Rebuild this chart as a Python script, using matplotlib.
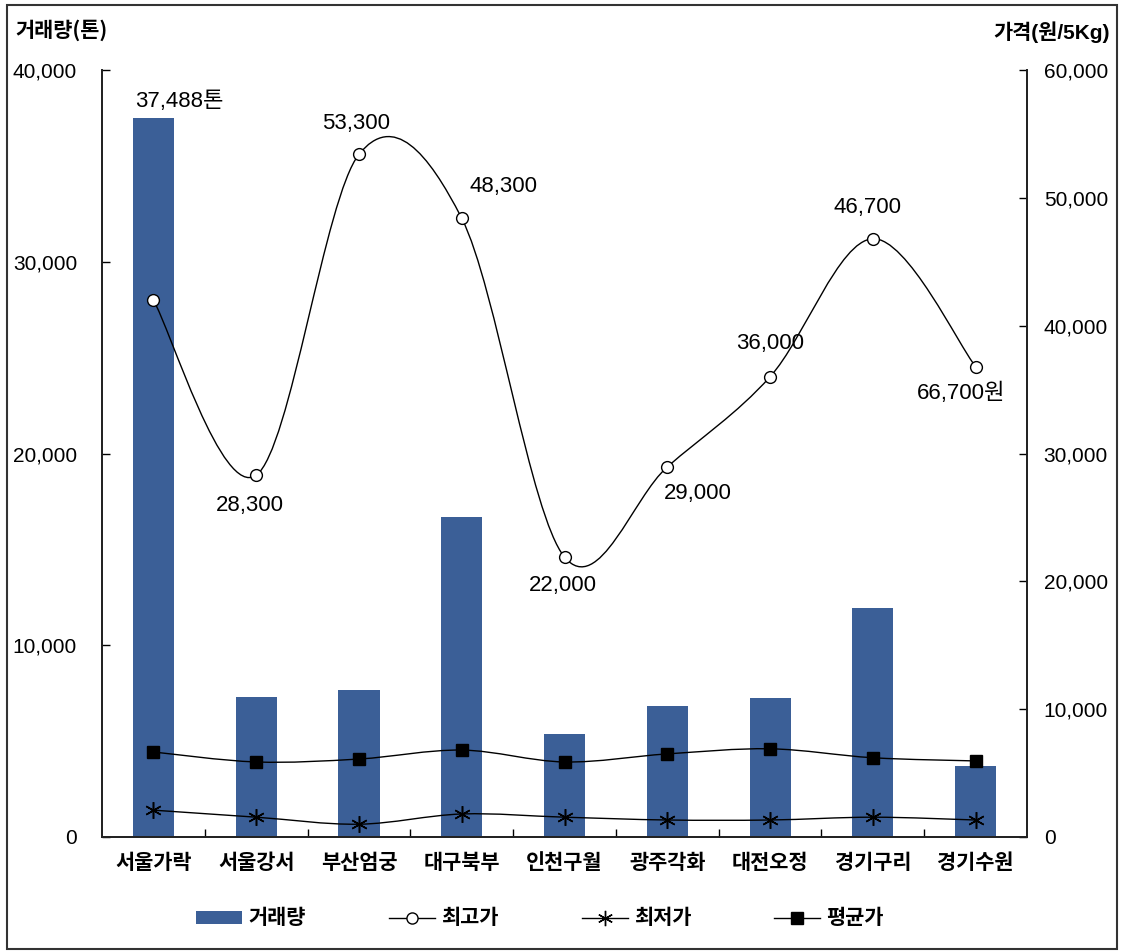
import matplotlib
matplotlib.use('Agg')

import matplotlib.pyplot as plt
import numpy as np
from matplotlib.path import Path
from matplotlib.patches import PathPatch, Patch, Rectangle
from matplotlib.lines import Line2D

markets = ['서울가락', '서울강서', '부산엄궁', '대구북부', '인천구월',
           '광주각화', '대전오정', '경기구리', '경기수원']
volume = [37488, 7300, 7650, 16700, 5350, 6850, 7250, 11950, 3700]
price_max = [42000, 28300, 53400, 48400, 21900, 28950, 36000, 46800, 36800]
price_min = [2100, 1550, 1000, 1800, 1550, 1330, 1330, 1550, 1330]
price_avg = [6650, 5870, 6100, 6800, 5870, 6500, 6900, 6200, 5950]
max_labels = ['', '28,300', '53,300', '48,300', '22,000', '29,000', '36,000', '46,700', '66,700원']
# label offsets in pixels from each point
max_offsets = [(0, 0), (-6, -30), (-3, 31), (42, 32), (-2, -28), (31, -27), (0, 33), (-5, 31), (-14, -27)]

fam = ['Liberation Sans', 'Noto Sans CJK KR', 'DejaVu Sans']
kfam = ['Noto Sans CJK KR', 'DejaVu Sans']
plt.rcParams['font.family'] = fam

bar_color = '#3b5f97'


def smooth_path(xs, ys, t=1.0 / 6):
    pts = np.column_stack([xs, ys]).astype(float)
    ext = np.vstack([pts[0], pts, pts[-1]])
    verts = [pts[0]]
    codes = [Path.MOVETO]
    for i in range(len(pts) - 1):
        p0, p1, p2, p3 = ext[i], ext[i + 1], ext[i + 2], ext[i + 3]
        c1 = p1 + (p2 - p0) * t
        c2 = p2 - (p3 - p1) * t
        verts += [c1, c2, p2]
        codes += [Path.CURVE4] * 3
    return Path(verts, codes)


def main():
    fig = plt.figure(figsize=(11.23, 9.52), dpi=100)
    ax1 = fig.add_axes([102 / 1123, 1 - 837 / 952, 925 / 1123, 767 / 952])
    ax2 = ax1.twinx()

    x = np.arange(len(markets))
    ax1.bar(x, volume, width=0.4, color=bar_color, zorder=2)
    ax1.set_xlim(-0.5, len(markets) - 0.5)
    ax1.set_ylim(0, 40000)
    ax2.set_ylim(0, 60000)
    ax1.set_yticks(np.arange(0, 40001, 10000))
    ax2.set_yticks(np.arange(0, 60001, 10000))
    ax1.set_yticklabels(['0' if v == 0 else f'{v:,}' for v in range(0, 40001, 10000)])
    ax2.set_yticklabels(['0' if v == 0 else f'{v:,}' for v in range(0, 60001, 10000)])

    ax1.set_xticks(x)
    ax1.set_xticklabels(markets, family=kfam, fontsize=15, fontweight='bold')
    ax1.set_xticks(np.arange(0.5, len(markets) - 1, 1), minor=True)
    ax1.tick_params(axis='x', which='major', length=0, pad=11)
    ax1.tick_params(axis='x', which='minor', direction='in', length=6, width=1)
    ax1.tick_params(axis='y', direction='in', length=6, width=1, pad=18, labelsize=15)
    ax2.tick_params(axis='y', direction='in', length=6, width=1, pad=12, labelsize=15)

    for ax in (ax1, ax2):
        for s in ax.spines.values():
            s.set_linewidth(1.3)
            s.set_color('#222222')
        ax.spines['top'].set_visible(False)

    # smooth lines on the price axis
    for ys in (price_max, price_avg, price_min):
        ax2.add_patch(PathPatch(smooth_path(x, ys), fill=False, lw=1.0, edgecolor='black', zorder=3))
    ax2.plot(x, price_max, ls='none', marker='o', ms=8.5, mfc='white', mec='black', mew=1.0, zorder=4)
    ax2.plot(x, price_min, ls='none', marker=(6, 2, 0), ms=12, mec='black', mew=1.1, zorder=4)
    ax2.plot(x, price_avg, ls='none', marker='s', ms=9, mfc='black', mec='black', zorder=4)

    for i, (lab, off) in enumerate(zip(max_labels, max_offsets)):
        if lab:
            ax2.annotate(lab, (x[i], price_max[i]), xytext=off, textcoords='offset pixels',
                         ha='center', va='center', fontsize=16)
    ax1.annotate('37,488톤', (x[0], volume[0]), xytext=(26, 17), textcoords='offset pixels',
                 ha='center', va='center', fontsize=16)

    fig.text(15 / 1123, 1 - 30 / 952, '거래량(톤)', ha='left', va='center',
             family=kfam, fontsize=15, fontweight='bold')
    fig.text(1110 / 1123, 1 - 32 / 952, '가격(원/5Kg)', ha='right', va='center',
             family=fam, fontsize=15, fontweight='bold')

    handles = [
        Patch(facecolor=bar_color),
        Line2D([], [], color='black', lw=1, marker='o', ms=8, mfc='white', mec='black'),
        Line2D([], [], color='black', lw=1, marker=(6, 2, 0), ms=11, mec='black'),
        Line2D([], [], color='black', lw=1, marker='s', ms=8, mfc='black'),
    ]
    fig.legend(handles, ['거래량', '최고가', '최저가', '평균가'], loc='center',
               bbox_to_anchor=(540 / 1123, 1 - 918 / 952), ncol=4, frameon=False,
               prop={'family': kfam, 'size': 15, 'weight': 'bold'},
               handlelength=2.2, handleheight=0.6, handletextpad=0.3, columnspacing=4.0)

    fig.patches.append(Rectangle((7 / 1123, 3 / 952), 1110 / 1123, 944 / 952,
                                 transform=fig.transFigure, fill=False, lw=1.5,
                                 edgecolor='#333333'))

    fig.savefig('out.png', dpi=100)
    plt.close(fig)


if __name__ == '__main__':
    main()
